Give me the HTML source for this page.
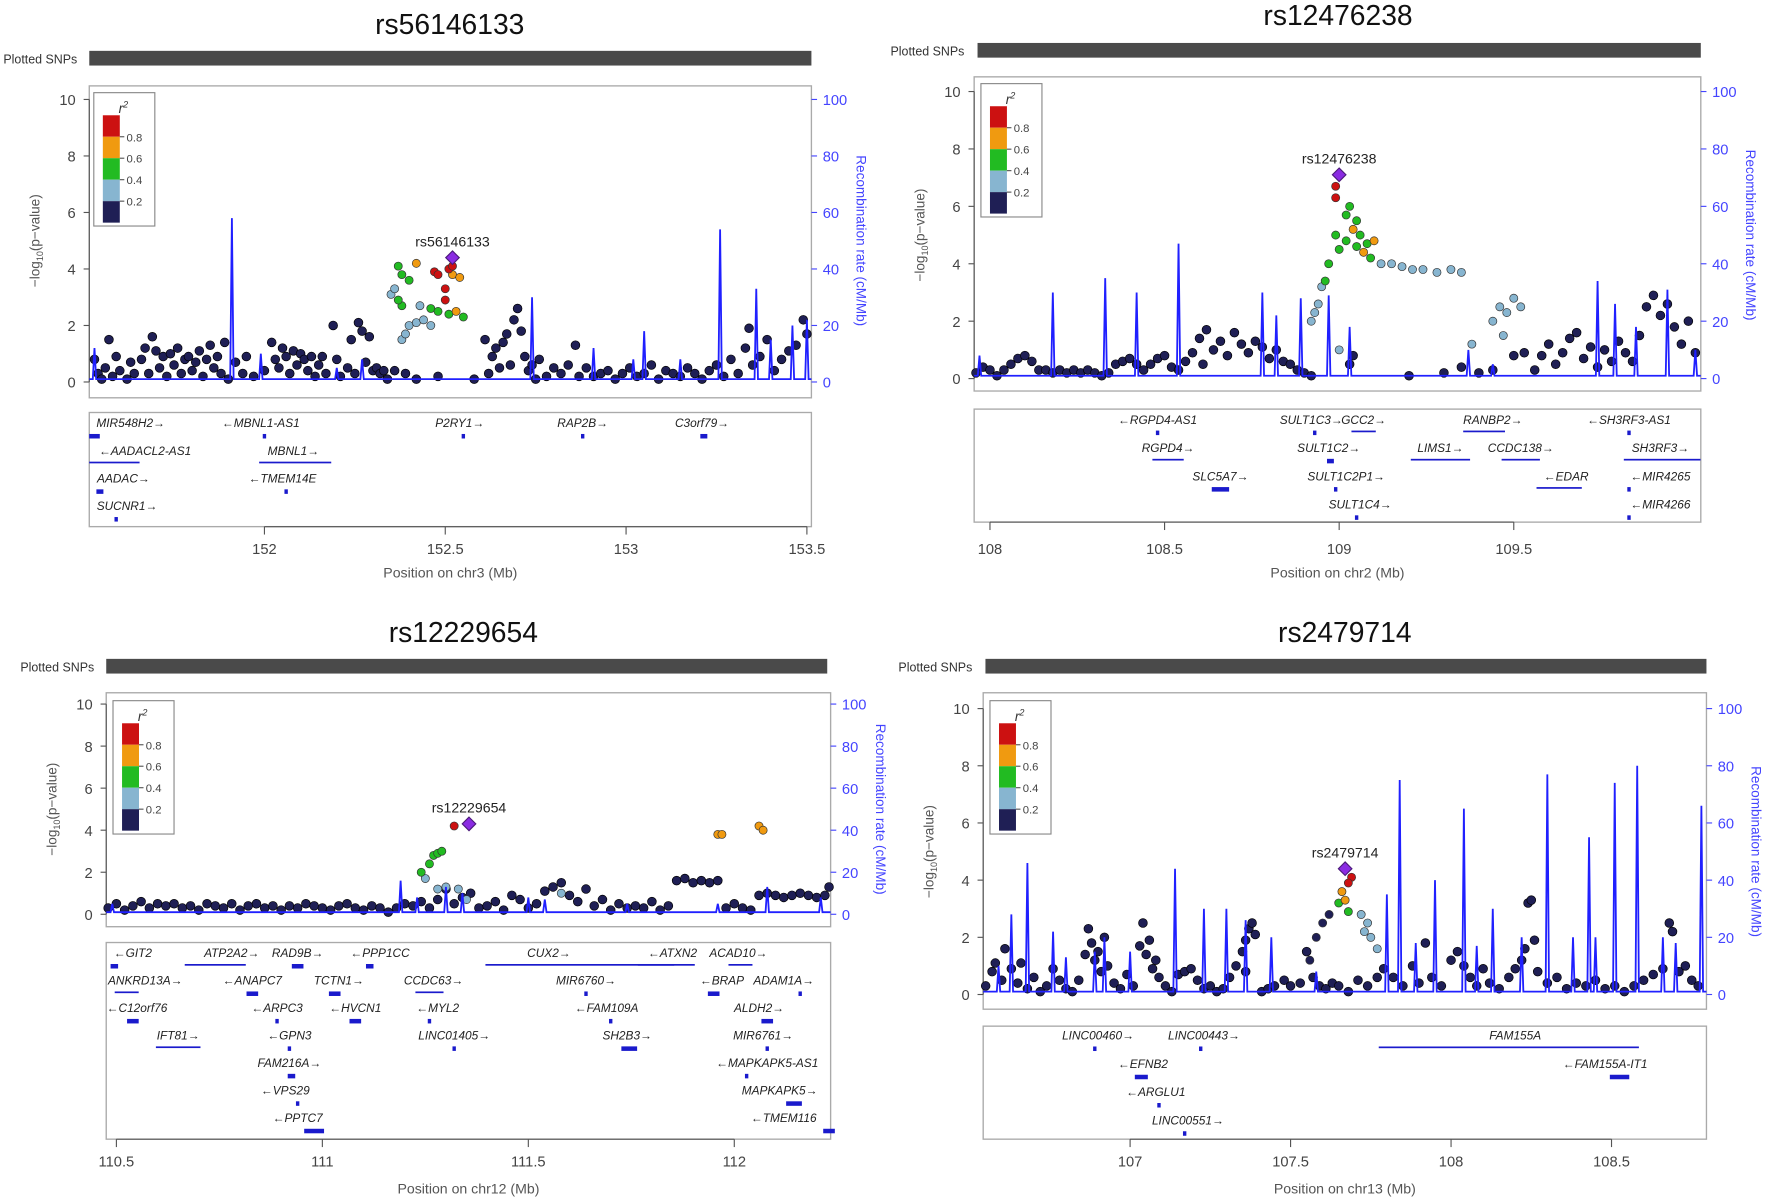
<!DOCTYPE html>
<html><head><meta charset="utf-8"><style>
html,body{margin:0;padding:0;background:#fff;}
svg{display:block;font-family:"Liberation Sans",sans-serif;}
</style></head><body>
<svg id="chart" width="1772" height="1202" viewBox="0 0 1568 1063.6" preserveAspectRatio="none" xmlns="http://www.w3.org/2000/svg"></svg>
<script>
// ===== Panel 1 data (chr3) =====
const p1Black = [[151.53,.8],[151.54,.3],[151.55,.1],[151.56,.5],[151.57,1.5],[151.58,.2],[151.59,.9],[151.60,.4],[151.62,.1],[151.63,.7],[151.64,.3],[151.66,.8],[151.67,1.2],[151.68,.3],[151.69,1.6],[151.70,1.1],[151.71,.5],[151.72,.9],[151.73,.2],[151.74,1.0],[151.75,.6],[151.76,1.2],[151.77,.3],[151.78,.8],[151.79,.9],[151.80,.4],[151.81,.7],[151.82,1.1],[151.83,.2],[151.84,.8],[151.85,1.3],[151.86,.5],[151.87,.9],[151.88,.3],[151.89,1.4],[151.90,.1],[151.92,.7],[151.94,.3],[151.95,.9],[151.97,.2],[152.00,.4],[152.02,1.4],[152.03,.8],[152.04,.5],[152.05,1.2],[152.06,.9],[152.07,.3],[152.08,1.1],[152.09,.6],[152.10,1.0],[152.11,.8],[152.12,.4],[152.13,.9],[152.14,.2],[152.15,.6],[152.16,.9],[152.17,.3],[152.19,2.0],[152.20,.8],[152.21,.2],[152.23,.5],[152.24,1.5],[152.25,.3],[152.26,2.1],[152.27,1.8],[152.28,.7],[152.29,1.6],[152.30,.4],[152.31,.5],[152.32,.3],[152.33,.4],[152.34,.1],[152.36,.4],[152.39,.3],[152.42,.1],[152.48,.2],[152.58,.1],[152.61,1.5],[152.62,.3],[152.63,.9],[152.64,1.2],[152.65,.5],[152.66,1.4],[152.67,1.7],[152.68,.6],[152.69,2.2],[152.70,2.6],[152.71,1.8],[152.72,.9],[152.73,.4],[152.74,.6],[152.75,.1],[152.76,.8],[152.78,.2],[152.80,.5],[152.82,.3],[152.84,.6],[152.86,1.3],[152.87,.2],[152.89,.5],[152.91,.2],[152.93,.3],[152.95,.4],[152.97,.1],[152.99,.3],[153.01,.5],[153.03,.2],[153.05,.3],[153.07,.6],[153.09,.1],[153.11,.4],[153.13,.3],[153.15,.2],[153.17,.5],[153.19,.3],[153.21,.1],[153.23,.4],[153.25,.6],[153.27,.2],[153.29,.8],[153.31,.3],[153.33,1.2],[153.34,1.9],[153.35,.6],[153.37,.9],[153.39,1.5],[153.41,.4],[153.43,.8],[153.45,1.1],[153.47,1.3],[153.49,2.2],[153.50,1.7]];
const p1Ld = [[152.35,3.1,1],[152.36,3.3,1],[152.40,2.0,1],[152.42,2.1,1],[152.44,2.2,1],[152.46,2.0,1],[152.38,1.5,1],[152.39,1.7,1],[152.43,2.7,1],[152.37,4.1,2],[152.38,3.8,2],[152.40,3.6,2],[152.38,2.7,2],[152.37,2.9,2],[152.46,2.6,2],[152.48,2.5,2],[152.55,2.3,2],[152.51,2.4,2],[152.42,4.2,3],[152.52,3.8,3],[152.53,2.5,3],[152.54,3.7,3],[152.47,3.9,4],[152.48,3.8,4],[152.50,3.3,4],[152.50,2.9,4],[152.51,4.0,4],[152.52,4.1,4]];
const p1Lead = [152.52,4.4,"rs56146133"];
const p1Recomb = [[151.53,12],[151.91,58],[151.99,10],[152.20,5],[152.27,8],[152.74,30],[152.91,12],[153.02,8],[153.05,18],[153.15,8],[153.26,54],[153.36,33],[153.40,15],[153.46,20],[153.50,22]];
const p1Genes = [["MIR548H2→",151.63,0,151.52,151.54],["←MBNL1-AS1",151.99,0,152.0,152.0],["P2RY1→",152.54,0,152.55,152.55],["RAP2B→",152.88,0,152.88,152.88],["C3orf79→",153.21,0,153.21,153.22],["←AADACL2-AS1",151.67,1,151.52,151.65],["MBNL1→",152.08,1,151.99,152.18],["AADAC→",151.61,2,151.54,151.55],["←TMEM14E",152.05,2,152.06,152.06],["SUCNR1→",151.62,3,151.59,151.59]];
const p1Ticks = [152,152.5,153,153.5];

// ===== Panel 2 data (chr2) =====
const p2Black = [[107.96,.2],[107.98,.4],[108.00,.3],[108.02,.1],[108.04,.3],[108.06,.5],[108.08,.7],[108.10,.8],[108.12,.6],[108.14,.3],[108.16,.3],[108.18,.2],[108.20,.3],[108.22,.2],[108.24,.3],[108.26,.2],[108.28,.3],[108.30,.2],[108.32,.1],[108.34,.2],[108.36,.5],[108.38,.6],[108.40,.7],[108.42,.5],[108.44,.3],[108.46,.5],[108.48,.7],[108.50,.8],[108.52,.4],[108.54,.3],[108.56,.6],[108.58,.9],[108.60,1.4],[108.61,.5],[108.62,1.7],[108.64,1.0],[108.66,1.3],[108.68,.8],[108.70,1.6],[108.72,1.2],[108.74,.9],[108.76,1.3],[108.78,1.1],[108.80,.7],[108.82,1.0],[108.84,.6],[108.86,.5],[108.88,.3],[108.90,.2],[108.92,.1],[109.03,.5],[109.04,.8],[109.20,.1],[109.30,.2],[109.35,.4],[109.40,.2],[109.44,.3],[109.50,.8],[109.53,.9],[109.56,.3],[109.58,.8],[109.60,1.2],[109.62,.5],[109.64,.9],[109.66,1.4],[109.68,1.6],[109.70,.7],[109.72,1.1],[109.74,.4],[109.76,1.0],[109.78,.6],[109.80,1.3],[109.82,.9],[109.84,.6],[109.86,1.5],[109.88,2.5],[109.90,2.9],[109.92,2.2],[109.94,2.6],[109.96,1.8],[109.98,1.2],[110.00,2.0],[110.02,.9]];
const p2Ld = [[108.93,2.3,1],[108.94,2.6,1],[108.92,2.0,1],[108.95,3.2,1],[109.12,4.0,1],[109.15,4.0,1],[109.18,3.9,1],[109.21,3.8,1],[109.24,3.8,1],[109.28,3.7,1],[109.32,3.8,1],[109.35,3.7,1],[109.38,1.2,1],[109.44,2.0,1],[109.46,2.5,1],[109.48,2.3,1],[109.50,2.8,1],[109.52,2.5,1],[109.47,1.5,1],[109.00,1.0,1],[109.05,4.6,2],[109.02,4.8,2],[108.99,5.0,2],[109.02,5.7,2],[109.03,6.0,2],[109.05,5.5,2],[109.06,5.0,2],[109.00,4.5,2],[109.08,4.7,2],[108.97,4.0,2],[108.96,3.4,2],[109.09,4.2,2],[109.04,5.2,3],[109.07,4.4,3],[109.10,4.8,3],[108.99,6.7,4],[108.99,6.3,4]];
const p2Lead = [109.0,7.1,"rs12476238"];
const p2Recomb = [[107.97,8],[108.18,30],[108.33,35],[108.42,30],[108.54,47],[108.78,30],[108.82,22],[108.89,28],[108.97,29],[109.03,18],[109.37,10],[109.44,5],[109.74,34],[109.79,26],[109.85,18],[109.94,31],[110.02,10]];
const p2Genes = [["←RGPD4-AS1",108.48,0,108.48,108.48],["SULT1C3→",108.92,0,108.93,108.93],["GCC2→",109.07,0,109.04,109.10],["RANBP2→",109.44,0,109.36,109.47],["←SH3RF3-AS1",109.83,0,109.83,109.83],["RGPD4→",108.51,1,108.47,108.55],["SULT1C2→",108.97,1,108.97,108.98],["LIMS1→",109.29,1,109.21,109.37],["CCDC138→",109.52,1,109.47,109.57],["SH3RF3→",109.92,1,109.82,110.03],["SLC5A7→",108.66,2,108.64,108.68],["SULT1C2P1→",109.02,2,108.99,108.99],["←EDAR",109.65,2,109.57,109.69],["←MIR4265",109.92,2,109.83,109.83],["SULT1C4→",109.06,3,109.05,109.05],["←MIR4266",109.92,3,109.83,109.83]];
const p2Ticks = [108,108.5,109,109.5];

// ===== Panel 3 data (chr12) =====
const p3Black = [[110.48,.3],[110.50,.5],[110.52,.2],[110.54,.4],[110.56,.6],[110.58,.3],[110.60,.5],[110.62,.4],[110.64,.5],[110.66,.3],[110.68,.4],[110.70,.2],[110.72,.5],[110.74,.4],[110.76,.3],[110.78,.5],[110.80,.2],[110.82,.4],[110.84,.5],[110.86,.3],[110.88,.4],[110.90,.2],[110.92,.4],[110.94,.3],[110.96,.5],[110.98,.4],[111.00,.3],[111.02,.2],[111.04,.4],[111.06,.5],[111.08,.3],[111.10,.2],[111.12,.4],[111.14,.3],[111.16,.1],[111.18,.3],[111.20,.5],[111.22,.4],[111.24,.6],[111.26,.3],[111.28,.7],[111.30,1.2],[111.32,.5],[111.34,.8],[111.36,1.0],[111.38,.3],[111.40,.4],[111.42,.6],[111.44,.2],[111.46,.9],[111.48,.7],[111.50,.3],[111.52,.5],[111.54,1.1],[111.56,1.3],[111.58,1.5],[111.60,.9],[111.62,.6],[111.64,1.2],[111.66,.4],[111.68,.7],[111.70,.2],[111.72,.5],[111.74,.3],[111.76,.4],[111.78,.3],[111.80,.6],[111.82,.2],[111.84,.4],[111.86,1.6],[111.88,1.7],[111.90,1.5],[111.92,1.6],[111.94,1.5],[111.96,1.6],[111.98,.3],[112.00,.5],[112.02,.3],[112.04,.2],[112.06,.9],[112.08,1.0],[112.10,.9],[112.12,.8],[112.14,.9],[112.16,1.0],[112.18,.9],[112.20,.8],[112.22,.9],[112.23,1.3]];
const p3Ld = [[111.25,1.7,1],[111.28,1.2,1],[111.30,1.3,1],[111.33,1.2,1],[111.35,.7,1],[111.58,1.0,1],[111.27,2.8,2],[111.28,2.9,2],[111.24,2.0,2],[111.29,3.0,2],[111.26,2.4,2],[111.96,3.8,3],[111.97,3.8,3],[112.06,4.2,3],[112.07,4.0,3],[111.32,4.2,4]];
const p3Lead = [111.356,4.3,"rs12229654"];
const p3Recomb = [[110.49,5],[111.19,16],[111.23,8],[111.30,13],[111.34,10],[111.50,8],[111.54,7],[111.74,5],[111.96,5],[112.08,13],[112.21,8]];
const p3Genes = [["←GIT2",110.54,0,110.49,110.50],["ATP2A2→",110.78,0,110.67,110.81],["RAD9B→",110.94,0,110.93,110.95],["←PPP1CC",111.14,0,111.11,111.12],["CUX2→",111.55,0,111.40,111.85],["←ATXN2",111.85,0,111.77,111.90],["ACAD10→",112.01,0,111.99,112.04],["ANKRD13A→",110.57,1,110.50,110.55],["←ANAPC7",110.83,1,110.82,110.84],["TCTN1→",111.04,1,111.02,111.04],["CCDC63→",111.27,1,111.23,111.29],["MIR6760→",111.64,1,111.64,111.64],["←BRAP",111.97,1,111.94,111.96],["ADAM1A→",112.12,1,112.16,112.16],["←C12orf76",110.55,2,110.53,110.55],["←ARPC3",110.89,2,110.89,110.89],["←HVCN1",111.08,2,111.07,111.09],["←MYL2",111.28,2,111.26,111.26],["←FAM109A",111.69,2,111.70,111.70],["ALDH2→",112.06,2,112.07,112.09],["IFT81→",110.65,3,110.60,110.70],["←GPN3",110.92,3,110.92,110.92],["LINC01405→",111.32,3,111.32,111.32],["SH2B3→",111.74,3,111.73,111.76],["MIR6761→",112.07,3,112.08,112.08],["FAM216A→",110.92,4,110.92,110.93],["←MAPKAPK5-AS1",112.08,4,112.03,112.03],["←VPS29",110.91,5,110.94,110.94],["MAPKAPK5→",112.11,5,112.13,112.16],["←PPTC7",110.94,6,110.96,111.0],["←TMEM116",112.12,6,112.22,112.24]];
const p3Ticks = [110.5,111,111.5,112];

// ===== Panel 4 data (chr13) =====
const p4Black = [[106.55,.3],[106.57,.8],[106.58,1.1],[106.60,.5],[106.61,1.6],[106.63,.9],[106.65,.4],[106.66,1.1],[106.68,.2],[106.70,.6],[106.72,.1],[106.74,.3],[106.76,.9],[106.78,.5],[106.80,.2],[106.82,.1],[106.84,.5],[106.86,1.4],[106.87,2.3],[106.88,1.8],[106.89,1.2],[106.90,1.5],[106.91,.8],[106.92,2.0],[106.93,1.0],[106.95,.4],[106.97,.2],[106.99,.7],[107.01,.3],[107.03,1.7],[107.04,2.5],[107.05,1.4],[107.06,1.9],[107.07,.9],[107.08,1.2],[107.09,.6],[107.11,.3],[107.13,.1],[107.15,.7],[107.17,.8],[107.19,.9],[107.21,.5],[107.23,.2],[107.25,.3],[107.27,.1],[107.29,.2],[107.31,.6],[107.33,1.0],[107.35,1.5],[107.36,1.9],[107.37,2.3],[107.38,2.5],[107.39,2.1],[107.36,.8],[107.41,.1],[107.43,.2],[107.45,.3],[107.48,.5],[107.50,.3],[107.53,.4],[107.55,1.5],[107.57,.6],[107.59,.3],[107.61,.2],[107.63,.4],[107.65,.3],[107.68,.1],[107.71,.5],[107.74,.3],[107.77,.6],[107.79,.9],[107.82,.6],[107.85,.3],[107.88,1.0],[107.90,.4],[107.92,1.8],[107.94,.6],[107.97,.3],[108.00,1.2],[108.02,1.5],[108.04,1.0],[108.06,.6],[108.08,.3],[108.10,.9],[108.12,.4],[108.15,.2],[108.18,.6],[108.20,.9],[108.22,1.2],[108.23,1.6],[108.24,3.2],[108.25,3.3],[108.26,1.9],[108.27,.8],[108.30,.4],[108.33,.6],[108.36,.2],[108.39,.4],[108.42,.3],[108.45,.5],[108.48,.2],[108.51,.3],[108.54,.1],[108.57,.3],[108.60,.5],[108.63,.7],[108.66,.9],[108.68,2.5],[108.69,2.2],[108.71,.8],[108.73,1.0],[108.75,.5],[108.77,.3]];
const p4Ld = [[107.58,2.0,0],[107.60,2.5,0],[107.62,2.8,0],[107.56,1.2,0],[107.72,2.8,1],[107.73,2.2,1],[107.75,2.0,1],[107.77,1.6,1],[107.74,2.5,1],[107.68,2.9,2],[107.65,3.2,2],[107.66,3.6,3],[107.67,3.3,3],[107.69,4.1,4],[107.68,3.9,4]];
const p4Lead = [107.67,4.4,"rs2479714"];
const p4Recomb = [[106.59,10],[106.63,28],[106.68,46],[106.76,22],[106.80,13],[106.89,15],[106.92,20],[107.00,15],[107.14,44],[107.23,30],[107.30,30],[107.36,26],[107.44,20],[107.58,8],[107.80,35],[107.84,75],[107.89,18],[107.95,40],[108.04,65],[108.08,17],[108.13,30],[108.22,20],[108.30,77],[108.38,20],[108.43,55],[108.45,20],[108.51,74],[108.58,80],[108.66,20],[108.70,18],[108.78,66]];
const p4Genes = [["LINC00460→",106.90,0,106.89,106.89],["LINC00443→",107.23,0,107.22,107.22],["FAM155A",108.20,0,107.78,108.58],["←EFNB2",107.04,1,107.02,107.05],["←FAM155A-IT1",108.48,1,108.50,108.55],["←ARGLU1",107.08,2,107.09,107.09],["LINC00551→",107.18,3,107.17,107.17]];
const p4Ticks = [107,107.5,108,108.5];

// ===== layout (positions, not data) =====
const panels = [
 {id:"p1",title:"rs56146133",tx:398,ty:30,snpLbl:3,bar:[79,718,45,58],box:[79,76,718,352],y0:338,y10:88,gbox:[79,365,718,466],gRow0:378,gStep:24.5,tickY:466,tickLblY:490,axLblY:511,x0:234,t0:152,k:320,chr:"chr3",black:p1Black,ld:p1Ld,lead:p1Lead,rec:p1Recomb,genes:p1Genes,ticks:p1Ticks,leg:[83,82]},
 {id:"p2",title:"rs12476238",tx:1184,ty:22,snpLbl:788,bar:[865,1505,38,51],box:[862,68,1505,346],y0:335,y10:81,gbox:[862,362,1505,462],gRow0:375,gStep:25,tickY:462,tickLblY:490,axLblY:511,x0:876,t0:108,k:309,chr:"chr2",black:p2Black,ld:p2Ld,lead:p2Lead,rec:p2Recomb,genes:p2Genes,ticks:p2Ticks,leg:[868,74]},
 {id:"p3",title:"rs12229654",tx:410,ty:568,snpLbl:18,bar:[94,732,583,596],box:[94,613,735,820],y0:809,y10:623,gbox:[94,834,735,1008],gRow0:847,gStep:24.3,tickY:1008,tickLblY:1032,axLblY:1056,x0:103,t0:110.5,k:364.5,chr:"chr12",black:p3Black,ld:p3Ld,lead:p3Lead,rec:p3Recomb,genes:p3Genes,ticks:p3Ticks,leg:[100,620]},
 {id:"p4",title:"rs2479714",tx:1190,ty:568,snpLbl:795,bar:[872,1510,583,596],box:[870,613,1510,893],y0:880,y10:627,gbox:[870,908,1510,1008],gRow0:920,gStep:25,tickY:1008,tickLblY:1032,axLblY:1056,x0:1000,t0:107,k:284,chr:"chr13",black:p4Black,ld:p4Ld,lead:p4Lead,rec:p4Recomb,genes:p4Genes,ticks:p4Ticks,leg:[876,620]}
];
const ldColors = ["#1f1f55","#87b5d0","#22bb22","#f09a10","#cc1111"];
const svg = document.getElementById('chart');
const NS = "http://www.w3.org/2000/svg";
function mk(tag, attrs, parent, text){
  const e = document.createElementNS(NS, tag);
  for (const k in attrs) e.setAttribute(k, attrs[k]);
  if (text !== undefined) e.textContent = text;
  (parent||svg).appendChild(e);
  return e;
}
panels.forEach(P=>{
  const g = mk('g',{});
  
  
  const X = v => P.x0 + (v - P.t0)*P.k;
  const Y = v => P.y0 - v*(P.y0-P.y10)/10;
  const R = v => P.y0 - v*(P.y0-P.y10)/100;
  const [bx0,by0,bx1,by1] = P.box;
  const t = mk('text',{x:P.tx,y:P.ty,'text-anchor':'middle','font-size':25,fill:'#111'},g,P.title);
  
  
  const sl = mk('text',{x:P.snpLbl,y:P.bar[3]-2,'font-size':11,fill:'#333'},g,'Plotted SNPs');
  
  
  const sb = mk('rect',{x:P.bar[0],y:P.bar[2],width:P.bar[1]-P.bar[0],height:P.bar[3]-P.bar[2],fill:'#4a4a4a'},g);
  
  
  const allPos = P.black.map(d=>d[0]).concat(P.ld.map(d=>d[0])).sort((a,b)=>a-b);
  for (let i=1;i<allPos.length;i++){
    const a=X(allPos[i-1]), b=X(allPos[i]);
    if (b-a>13){ mk('rect',{x:a+4,y:P.bar[2],width:b-a-8,height:P.bar[3]-P.bar[2],fill:'#bdbdbd'},g); }
  }
  const bx = mk('rect',{x:bx0,y:by0,width:bx1-bx0,height:by1-by0,fill:'none',stroke:'#aaa','stroke-width':1.2},g);
  
  
  for (let v=0; v<=10; v+=2){
    mk('line',{x1:bx0-5,x2:bx0,y1:Y(v),y2:Y(v),stroke:'#555'},g);
    const tl = mk('text',{x:bx0-12,y:Y(v)+5,'text-anchor':'end','font-size':13,fill:'#444'},g,String(v));
    
    
  }
  mk('line',{x1:bx0,x2:bx0,y1:Y(0),y2:Y(10),stroke:'#555'},g);
  const yl = mk('text',{transform:`translate(${bx0-44},${(Y(0)+Y(10))/2}) rotate(-90)`,'text-anchor':'middle','font-size':12,fill:'#555'},g);
  
  
  yl.innerHTML = '−log<tspan font-size="8" dy="3">10</tspan><tspan dy="-3">(p−value)</tspan>';
  for (let v=0; v<=100; v+=20){
    mk('line',{x1:bx1,x2:bx1+5,y1:R(v),y2:R(v),stroke:'#4444ff'},g);
    const rl = mk('text',{x:bx1+10,y:R(v)+5,'font-size':13,fill:'#4444ff'},g,String(v));
    
    
  }
  const rt = mk('text',{transform:`translate(${bx1+40},${(R(0)+R(100))/2}) rotate(90)`,'text-anchor':'middle','font-size':12,fill:'#4444ff'},g,'Recombination rate (cM/Mb)');
  
  
  P.black.forEach(d=>{
    const c = mk('circle',{cx:X(d[0]),cy:Y(d[1]),r:3.9,fill:ldColors[0],stroke:'#000','stroke-width':.6},g);
    
    
  });
  P.ld.forEach(d=>{
    const c = mk('circle',{cx:X(d[0]),cy:Y(d[1]),r:3.6,fill:ldColors[d[2]],stroke:'#333','stroke-width':.6},g);
    
    
  });
  let path = `M${bx0},${R(1)}`;
  P.rec.forEach(d=>{ const x=X(d[0]); path += ` L${x-1.5},${R(1)} L${x},${R(d[1])} L${x+1.5},${R(1)}`; });
  path += ` L${bx1},${R(1)}`;
  const rp = mk('path',{d:path,fill:'none',stroke:'#2020ff','stroke-width':1.6},g);
  
  
  const lx=X(P.lead[0]), ly=Y(P.lead[1]);
  const ld = mk('polygon',{points:`${lx},${ly-6} ${lx+6},${ly} ${lx},${ly+6} ${lx-6},${ly}`,fill:'#8a2be2',stroke:'#4b1a7a'},g);
  
  
  const ll = mk('text',{x:lx,y:ly-10,'text-anchor':'middle','font-size':12.5,fill:'#222'},g,P.lead[2]);
  
  
  const [lgx,lgy] = P.leg;
  const lg = mk('g',{},g);
  
  
  mk('rect',{x:lgx,y:lgy,width:54,height:118,fill:'#fff',stroke:'#888'},lg);
  mk('text',{x:lgx+22,y:lgy+18,'font-size':12,'font-style':'italic',fill:'#333'},lg).innerHTML='r<tspan font-size="8" dy="-5">2</tspan>';
  const cols=[4,3,2,1,0];
  cols.forEach((ci,i)=>{ mk('rect',{x:lgx+8,y:lgy+20+i*19,width:15,height:19,fill:ldColors[ci],stroke:'none'},lg); });
  ["0.8","0.6","0.4","0.2"].forEach((s,i)=>{
    mk('line',{x1:lgx+23,x2:lgx+27,y1:lgy+39+i*19,y2:lgy+39+i*19,stroke:'#555'},lg);
    mk('text',{x:lgx+29,y:lgy+43+i*19,'font-size':10,fill:'#444'},lg,s);
  });
  const [gx0,gy0,gx1,gy1] = P.gbox;
  const gb = mk('rect',{x:gx0,y:gy0,width:gx1-gx0,height:gy1-gy0,fill:'none',stroke:'#aaa','stroke-width':1.2},g);
  
  
  P.genes.forEach(d=>{
    const yy = P.gRow0 + d[2]*P.gStep;
    const gt = mk('text',{x:X(d[1]),y:yy,'text-anchor':'middle','font-size':10.5,'font-style':'italic',fill:'#222'},g,d[0]);
    
    
    const a=X(d[3]), b=X(d[4]);
    const gl = mk('rect',{x:Math.min(a,b)-1.5,y:yy+6,width:Math.abs(b-a)+3,height:b-a>15?1.5:4,fill:'#1a1acc'},g);
    
    
  });
  P.ticks.forEach(v=>{
    mk('line',{x1:X(v),x2:X(v),y1:P.tickY,y2:P.tickY+7,stroke:'#555'},g);
    const xt = mk('text',{x:X(v),y:P.tickLblY,'text-anchor':'middle','font-size':13,fill:'#444'},g,String(v));
    
    
  });
  mk('line',{x1:X(P.ticks[0]),x2:X(P.ticks[P.ticks.length-1]),y1:P.tickY,y2:P.tickY,stroke:'#555'},g);
  const xa = mk('text',{x:(bx0+bx1)/2,y:P.axLblY,'text-anchor':'middle','font-size':12.5,fill:'#555'},g,`Position on ${P.chr} (Mb)`);
  
  
});
</script>
</body></html>
